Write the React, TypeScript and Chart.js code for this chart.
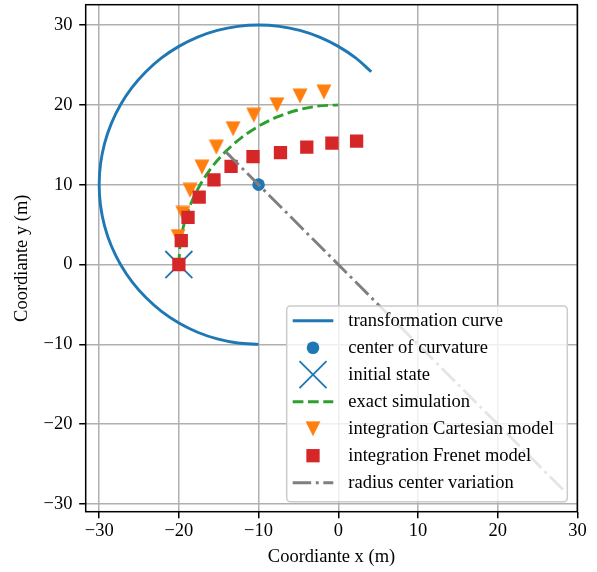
import React, { useEffect, useRef } from "react";
import { Chart, registerables } from "chart.js";

Chart.register(...registerables);

// ---- data ----
const xTicks = [-30, -20, -10, 0, 10, 20, 30];
const yTicks = [-30, -20, -10, 0, 10, 20, 30];
const xLimits = [-31.69, 29.99];
const yLimits = [-30.96, 32.54];

// transformation curve (arc around the center of curvature)
const arcX = [-10, -12.61, -15.18, -17.65, -20, -22.18, -24.14, -25.87, -27.32, -28.48, -29.32, -29.83, -30, -29.83, -29.32, -28.48, -27.32, -25.87, -24.14, -22.18, -20, -17.65, -15.18, -12.61, -10, -7.39, -4.82, -2.35, 0, 2.18, 4.14];
const arcY = [-10, -9.83, -9.32, -8.48, -7.32, -5.87, -4.14, -2.18, 0, 2.35, 4.82, 7.39, 10, 12.61, 15.18, 17.65, 20, 22.18, 24.14, 25.87, 27.32, 28.48, 29.32, 29.83, 30, 29.83, 29.32, 28.48, 27.32, 25.87, 24.14];

const centerX = [-10];
const centerY = [10];

const initX = [-20];
const initY = [0];

// exact simulation
const exactX = [-20, -19.83, -19.32, -18.48, -17.32, -15.87, -14.14, -12.18, -10, -7.65, -5.18, -2.61, 0];
const exactY = [0, 2.61, 5.18, 7.65, 10, 12.18, 14.14, 15.87, 17.32, 18.48, 19.32, 19.83, 20];

// integration Cartesian model
const cartX = [-20.1, -19.5, -18.6, -17.1, -15.3, -13.2, -10.6, -7.7, -4.8, -1.8];
const cartY = [3.5, 6.4, 9.3, 12.2, 14.7, 17.0, 18.7, 20.0, 21.1, 21.6];

// integration Frenet model
const frenetX = [-20, -19.7, -18.85, -17.45, -15.6, -13.45, -10.7, -7.25, -3.95, -0.8, 2.3];
const frenetY = [0, 3.0, 5.9, 8.45, 10.6, 12.3, 13.5, 14.0, 14.7, 15.2, 15.45];

// radius center variation
const radX = [-14.14, 28.28];
const radY = [14.14, -28.28];

const labels = [
  "transformation curve",
  "center of curvature",
  "initial state",
  "exact simulation",
  "integration Cartesian model",
  "integration Frenet model",
  "radius center variation",
];

const BLUE = "#1f77b4";
const ORANGE = "#ff7f0e";
const GREEN = "#2ca02c";
const RED = "#d62728";
const GRAY = "#7f7f7f";
const FONT = "'Liberation Serif', 'Times New Roman', serif";
const FS = 18.5;
const LW = 2.9;
const DASH = [10.7, 4.6];
const DASHDOT = [18.5, 4.6, 2.9, 4.6];

const pts = (xs: number[], ys: number[]) => xs.map((x, i) => ({ x, y: ys[i] }));
const fmt = (v: number) => (v < 0 ? "\u2212" + Math.abs(v) : String(v));

function makeTriangle() {
  const c = document.createElement("canvas");
  c.width = 16;
  c.height = 16;
  const g = c.getContext("2d")!;
  g.fillStyle = ORANGE;
  g.beginPath();
  g.moveTo(0.5, 0.5);
  g.lineTo(15.5, 0.5);
  g.lineTo(8, 15.5);
  g.closePath();
  g.fill();
  return c;
}

export default function App() {
  const ref = useRef<HTMLCanvasElement | null>(null);

  useEffect(() => {
    const canvas = ref.current!;
    const tri = makeTriangle();

    const framePlugin = {
      id: "frame",
      afterDatasetsDraw(chart: any) {
        const { ctx, chartArea: a } = chart;
        ctx.save();
        ctx.strokeStyle = "#000";
        ctx.lineWidth = 1.5;
        ctx.strokeRect(a.left, a.top, a.right - a.left, a.bottom - a.top);
        ctx.restore();
      },
    };

    const legendPlugin = {
      id: "mplLegend",
      afterDraw(chart: any) {
        const ctx: CanvasRenderingContext2D = chart.ctx;
        const x0 = 286.7, y0 = 306, x1 = 567.3, y1 = 501.7, r = 3.7;
        ctx.save();
        ctx.beginPath();
        ctx.moveTo(x0 + r, y0);
        ctx.lineTo(x1 - r, y0);
        ctx.arcTo(x1, y0, x1, y0 + r, r);
        ctx.lineTo(x1, y1 - r);
        ctx.arcTo(x1, y1, x1 - r, y1, r);
        ctx.lineTo(x0 + r, y1);
        ctx.arcTo(x0, y1, x0, y1 - r, r);
        ctx.lineTo(x0, y0 + r);
        ctx.arcTo(x0, y0, x0 + r, y0, r);
        ctx.closePath();
        ctx.fillStyle = "rgba(255,255,255,0.8)";
        ctx.fill();
        ctx.strokeStyle = "#cccccc";
        ctx.lineWidth = 1.5;
        ctx.stroke();

        const hx0 = 292.7, hx1 = 333.3, hc = (hx0 + hx1) / 2;
        const rowY0 = 320.7, rowStep = 27.0;
        labels.forEach((lab, i) => {
          const y = rowY0 + i * rowStep;
          ctx.save();
          if (i === 0 || i === 3 || i === 6) {
            ctx.beginPath();
            ctx.strokeStyle = i === 0 ? BLUE : i === 3 ? GREEN : GRAY;
            ctx.lineWidth = LW;
            ctx.setLineDash(i === 0 ? [] : i === 3 ? DASH : DASHDOT);
            ctx.moveTo(hx0, y);
            ctx.lineTo(hx1, y);
            ctx.stroke();
          } else if (i === 1) {
            ctx.beginPath();
            ctx.fillStyle = BLUE;
            ctx.arc(hc, y, 6.3, 0, Math.PI * 2);
            ctx.fill();
          } else if (i === 2) {
            const h = 13.5;
            ctx.beginPath();
            ctx.strokeStyle = BLUE;
            ctx.lineWidth = 1.8;
            ctx.moveTo(hc - h, y - h);
            ctx.lineTo(hc + h, y + h);
            ctx.moveTo(hc + h, y - h);
            ctx.lineTo(hc - h, y + h);
            ctx.stroke();
          } else if (i === 4) {
            ctx.drawImage(tri, hc - 8, y - 8);
          } else if (i === 5) {
            ctx.fillStyle = RED;
            ctx.fillRect(hc - 6.65, y - 6.65, 13.3, 13.3);
          }
          ctx.restore();
          ctx.fillStyle = "#000";
          ctx.font = `${FS}px ${FONT}`;
          ctx.textBaseline = "middle";
          ctx.textAlign = "left";
          ctx.fillText(lab, 348.3, y);
        });
        ctx.restore();
      },
    };

    const axisCommon = (ticks: number[], title: string, isX: boolean) => ({
      type: "linear" as const,
      position: isX ? ("bottom" as const) : ("left" as const),
      min: isX ? xLimits[0] : yLimits[0],
      max: isX ? xLimits[1] : yLimits[1],
      afterBuildTicks: (scale: any) => {
        scale.ticks = ticks.map((v) => ({ value: v }));
      },
      afterFit: (scale: any) => {
        if (isX) scale.height = 60.3;
        else scale.width = 85.7;
        scale.paddingTop = 0;
        scale.paddingBottom = 0;
        scale.paddingLeft = 0;
        scale.paddingRight = 0;
      },
      ticks: {
        callback: (v: any) => fmt(Number(v)),
        font: { family: FONT, size: FS },
        color: "#000",
        padding: isX ? 2.2 : 6.7,
        maxRotation: 0,
        minRotation: 0,
        autoSkip: false,
      },
      grid: {
        color: "#b0b0b0",
        lineWidth: 1.5,
        drawTicks: true,
        tickLength: 6.5,
        tickColor: "#000",
        tickWidth: 1.5,
      },
      border: { display: false },
      title: {
        display: true,
        text: title,
        font: { family: FONT, size: FS },
        color: "#000",
        padding: isX ? { top: 0, bottom: 3.5 } : { top: 10.6, bottom: 0 },
      },
    });

    const chart = new Chart(canvas, {
      type: "scatter",
      data: {
        datasets: [
          {
            label: labels[0],
            data: pts(arcX, arcY),
            showLine: true,
            borderColor: BLUE,
            borderWidth: LW,
            pointRadius: 0,
            tension: 0.33,
            fill: false,
            order: 7,
          },
          {
            label: labels[1],
            data: pts(centerX, centerY),
            pointStyle: "circle",
            pointRadius: 6.3,
            backgroundColor: BLUE,
            borderColor: BLUE,
            borderWidth: 0,
            order: 6,
          },
          {
            label: labels[2],
            data: pts(initX, initY),
            pointStyle: "crossRot",
            pointRadius: 19.1,
            borderColor: BLUE,
            borderWidth: 1.8,
            order: 5,
          },
          {
            label: labels[3],
            data: pts(exactX, exactY),
            showLine: true,
            borderColor: GREEN,
            borderWidth: LW,
            borderDash: DASH,
            pointRadius: 0,
            tension: 0.33,
            fill: false,
            order: 4,
          },
          {
            label: labels[4],
            data: pts(cartX, cartY),
            pointStyle: tri as any,
            pointRadius: 8,
            order: 3,
          },
          {
            label: labels[5],
            data: pts(frenetX, frenetY),
            pointStyle: "rect",
            pointRadius: 9.4,
            backgroundColor: RED,
            borderColor: RED,
            borderWidth: 0,
            order: 2,
          },
          {
            label: labels[6],
            data: pts(radX, radY),
            showLine: true,
            borderColor: GRAY,
            borderWidth: LW,
            borderDash: DASHDOT,
            pointRadius: 0,
            fill: false,
            order: 1,
          },
        ] as any,
      },
      options: {
        animation: false,
        responsive: false,
        devicePixelRatio: 1,
        events: [],
        layout: { autoPadding: false, padding: { left: 0, top: 4.7, right: 19.7, bottom: 0 } },
        plugins: {
          legend: { display: false },
          tooltip: { enabled: false },
        },
        scales: {
          x: axisCommon(xTicks, "Coordiante x (m)", true),
          y: axisCommon(yTicks, "Coordiante y (m)", false),
        } as any,
      } as any,
      plugins: [framePlugin, legendPlugin],
    });

    return () => chart.destroy();
  }, []);

  return (
    <div style={{ position: "absolute", left: 0, top: 0, width: 597, height: 572, background: "#fff" }}>
      <canvas ref={ref} width={597} height={572} style={{ display: "block", width: 597, height: 572 }} />
    </div>
  );
}
